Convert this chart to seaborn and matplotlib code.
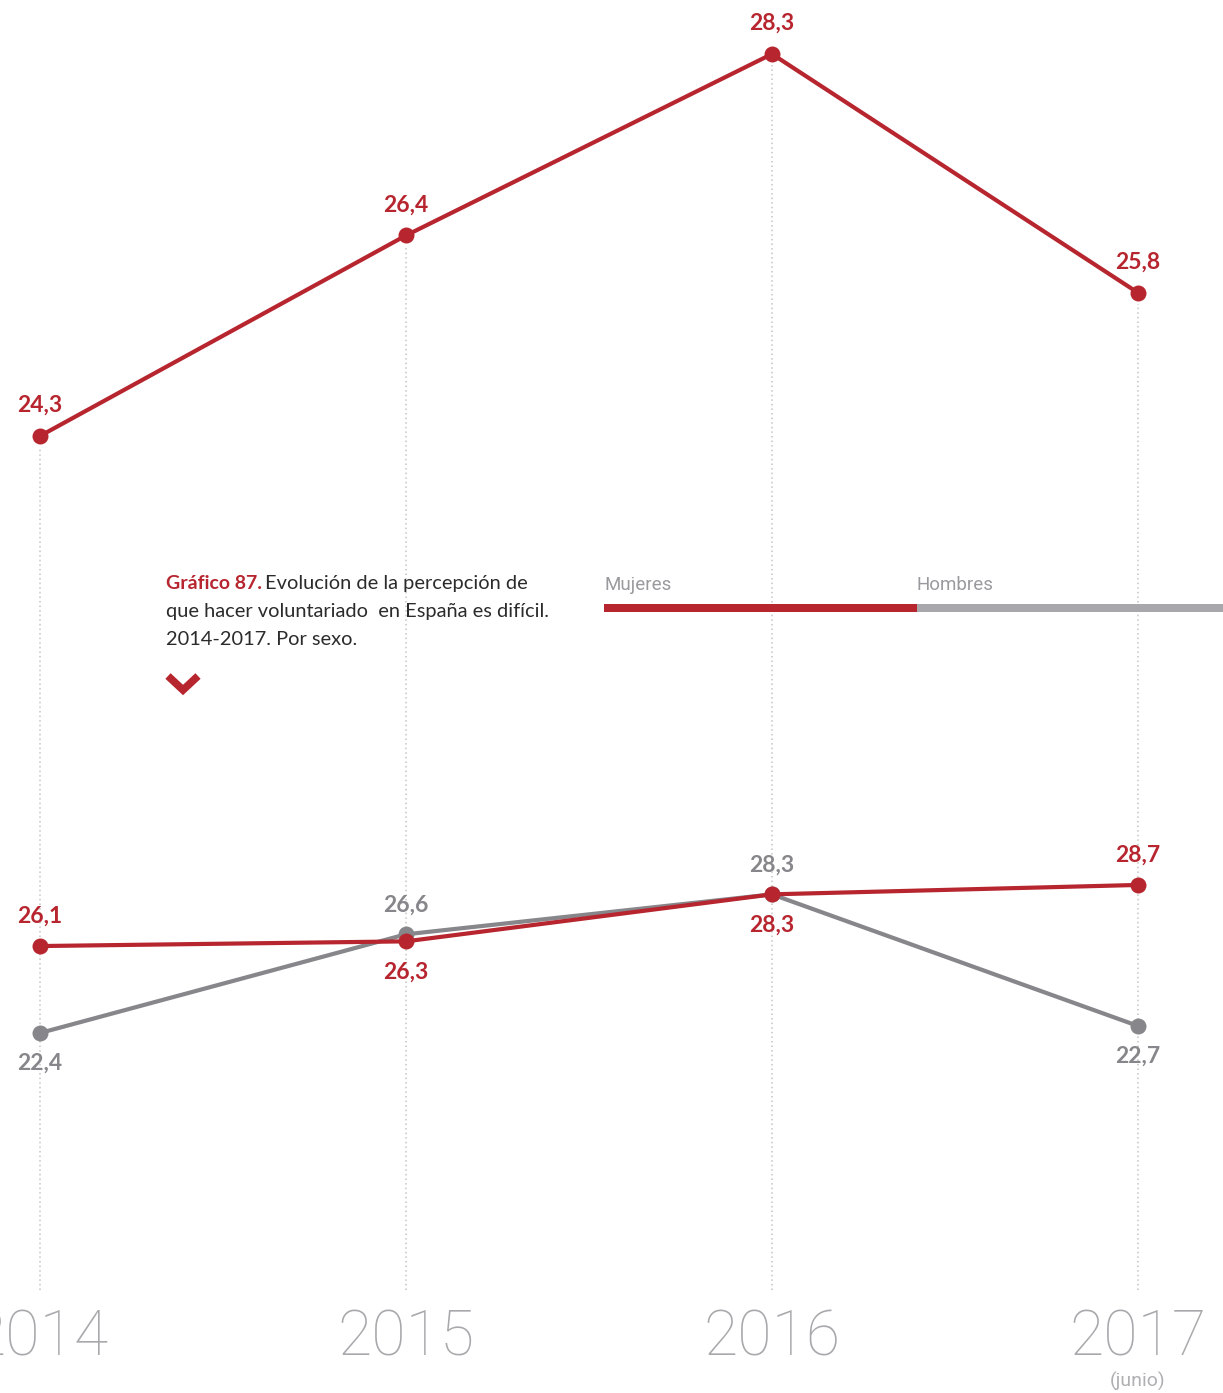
import numpy as np
import pandas as pd
import matplotlib
matplotlib.use("Agg")
import matplotlib.pyplot as plt
import seaborn as sns
from matplotlib.lines import Line2D
from matplotlib.patches import Rectangle

# ---------------- data ----------------
years = ["2014", "2015", "2016", "2017"]
year_note = "(junio)"
prev_values = [24.3, 26.4, 28.3, 25.8]          # upper red series (previous chart)
mujeres = [26.1, 26.3, 28.3, 28.7]
hombres = [22.4, 26.6, 28.3, 22.7]
series_names = ["Mujeres", "Hombres"]
mujeres_label_pos = ["above", "below", "below", "above"]
hombres_label_pos = ["below", "above", "above", "below"]
title_bold = "Gráfico 87."
title_lines = ["Evolución de la percepción de",
               "que hacer voluntariado  en España es difícil.",
               "2014-2017. Por sexo."]

# ---------------- style ----------------
RED = "#b7252f"
GRAY = "#86868b"
LEG_GRAY = "#a8a8ac"
YEAR_GRAY = "#a9a9ad"
TEXT = "#2b2b2b"
FONT = ["Lato", "DejaVu Sans"]
LIGHT_FONT = ["Roboto", "DejaVu Sans"]

W, H = 1223, 1393
sns.set_style("white")
plt.rcParams["font.family"] = FONT

fig = plt.figure(figsize=(W / 100, H / 100), dpi=100)
fig.patch.set_facecolor("white")


def fx(px):
    return px / W


def fy(py):
    return 1 - py / H


unit = 366.0
xlim = (-40 / unit, 3 + (W - 1138) / unit)

# top axes (previous series)
ax_top = fig.add_axes([0, 0, 1, 1])
ppu_top = 95.5
ax_top.set_xlim(*xlim)
ax_top.set_ylim(24.3 - (H - 436) / ppu_top, 24.3 + 436 / ppu_top)
ax_top.axis("off")

# bottom axes (by sex)
ax_bot = fig.add_axes([0, 0, 1, 1], sharex=ax_top)
ax_bot.patch.set_alpha(0)
ppu_bot = 23.5
a_bot = 1559.4
ax_bot.set_ylim((a_bot - H) / ppu_bot, a_bot / ppu_bot)
ax_bot.axis("off")

xs = np.arange(len(years))

# vertical dotted guides
ylo, yhi = ax_top.get_ylim()
guide_bottom = ylo + (1 - 1290 / H) * (yhi - ylo)
ax_top.vlines(xs, guide_bottom, np.array(prev_values) - 0.12,
              colors="#c4c4c4", linestyles=(0, (1, 2)), linewidth=1.1, zorder=0)

# upper series
df_top = pd.DataFrame({"x": xs, "value": prev_values})
sns.lineplot(data=df_top, x="x", y="value", ax=ax_top, color=RED,
             linewidth=3.0, marker="o", markersize=11.5, markeredgewidth=0,
             zorder=3)
ax_top.set_xlim(*xlim)
ax_top.axis("off")

PX = 0.72  # points per pixel


def fmt(v):
    return f"{v:.1f}".replace(".", ",")


for x, v in zip(xs, prev_values):
    ax_top.annotate(fmt(v), (x, v), xytext=(0, 24 * PX), textcoords="offset points",
                    ha="center", va="baseline", fontsize=16.5, fontweight="bold",
                    color=RED)

# lower series
df_bot = pd.DataFrame({
    "x": np.concatenate([xs, xs]),
    "value": hombres + mujeres,
    "sexo": ["Hombres"] * len(xs) + ["Mujeres"] * len(xs),
})
sns.lineplot(data=df_bot, x="x", y="value", hue="sexo",
             hue_order=["Hombres", "Mujeres"],
             palette={"Mujeres": RED, "Hombres": GRAY},
             ax=ax_bot, linewidth=3.0, marker="o", markersize=11.5,
             markeredgewidth=0, legend=False, zorder=3)
ax_bot.set_xlim(*xlim)
ax_bot.axis("off")

for vals, poss, col in [(mujeres, mujeres_label_pos, RED),
                        (hombres, hombres_label_pos, GRAY)]:
    for x, v, p in zip(xs, vals, poss):
        off = 23 if p == "above" else -37
        ax_bot.annotate(fmt(v), (x, v), xytext=(0, off * PX),
                        textcoords="offset points", ha="center", va="baseline",
                        fontsize=16.5, fontweight="bold", color=col, zorder=5)

# year labels
trans = ax_top.get_xaxis_transform()
for x, yr in zip(xs, years):
    ax_top.text(x, fy(1355), yr, transform=trans, ha="center", va="baseline",
                fontsize=45, fontweight="light", family=LIGHT_FONT,
                color=YEAR_GRAY)
ax_top.text(xs[-1], fy(1387), year_note, transform=trans, ha="center",
            va="baseline", fontsize=14, fontweight="normal", family=LIGHT_FONT,
            color="#b0b0b4")

# title block
fig.text(fx(166), fy(589), title_bold, ha="left", va="baseline", fontsize=14.0,
         fontweight="bold", color=RED)
fig.text(fx(265), fy(589), title_lines[0], ha="left", va="baseline",
         fontsize=14.4, color=TEXT)
for i, line in enumerate(title_lines[1:], start=1):
    fig.text(fx(166), fy(589 + 28 * i), line, ha="left", va="baseline",
             fontsize=14.4, color=TEXT)

# chevron
fig.add_artist(Line2D([fx(168), fx(183), fx(198)], [fy(676), fy(690), fy(676)],
                      transform=fig.transFigure, color=RED, linewidth=5.5,
                      solid_joinstyle="miter", solid_capstyle="butt"))

# legend
leg_colors = [RED, LEG_GRAY]
leg_x = [604, 917, W]
for i, name in enumerate(series_names):
    fig.text(fx(leg_x[i]), fy(590), name, ha="left", va="baseline", fontsize=13.5,
             fontweight="normal", family=LIGHT_FONT, color="#9a9a9e")
    fig.add_artist(Rectangle((fx(leg_x[i]), fy(612)),
                             fx(leg_x[i + 1] - leg_x[i]), 8 / H,
                             transform=fig.transFigure, color=leg_colors[i],
                             linewidth=0))

fig.savefig("out.png", dpi=100, facecolor="white")
